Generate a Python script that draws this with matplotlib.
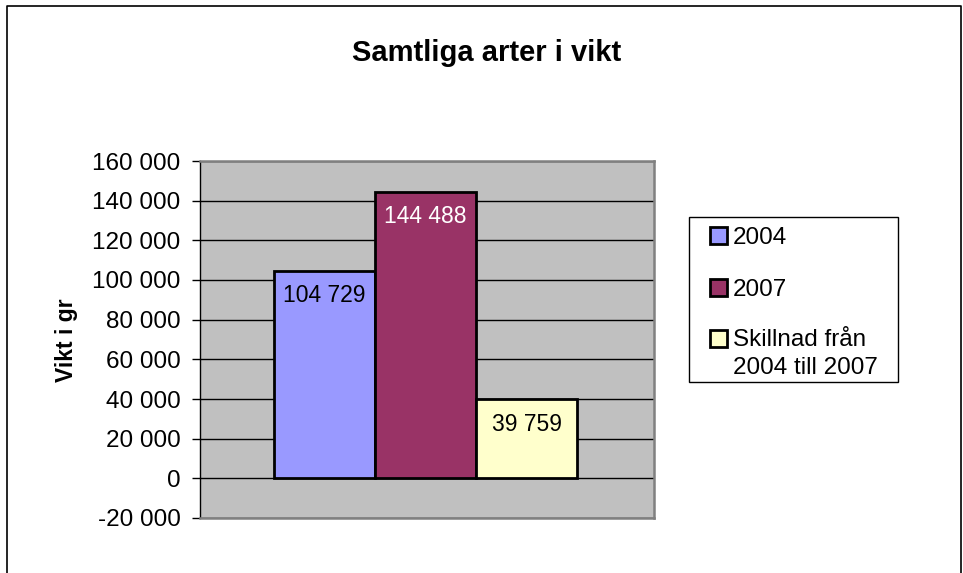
import matplotlib
matplotlib.use("Agg")
import matplotlib.pyplot as plt
from matplotlib.ticker import FuncFormatter, MultipleLocator
from matplotlib.lines import Line2D
from matplotlib.patches import Rectangle

plt.rcParams['font.family'] = ['Liberation Sans', 'DejaVu Sans']

title = "Samtliga arter i vikt"
ylabel = "Vikt i gr"
series_labels = ["2004", "2007", "Skillnad från\n2004 till 2007"]
values = [104729, 144488, 39759]
label_colors = ["black", "white", "black"]
colors = ["#9999FF", "#993366", "#FFFFCC"]

W, H = 963, 573
def fx(px):
    return px / W
def fy(py):
    return 1 - py / H

FS = 16.5
FS_TICK = 17.5
FS_LEG = 17.5
fig = plt.figure(figsize=(W / 100, H / 100), dpi=100)
ax = fig.add_axes([fx(200), fy(518), (654 - 200) / W, (518 - 161) / H])
ax.set_facecolor("#C0C0C0")

xs = [-1, 0, 1]
for x, v, c, lab, lc in zip(xs, values, colors, series_labels, label_colors):
    ax.bar(x, v, width=1.0, color=c, edgecolor="black", linewidth=2, label=lab, zorder=3)
    ax.annotate(f"{v:,}".replace(",", " "), (x, v), xytext=(0, -22.8), textcoords="offset points",
                ha="center", va="baseline", fontsize=FS, color=lc, zorder=4)

ax.set_xlim(-2.233, 2.262)
ax.set_ylim(-20000, 160000)
ax.yaxis.set_major_locator(MultipleLocator(20000))
ax.yaxis.set_major_formatter(FuncFormatter(lambda v, p: f"{int(v):,}".replace(",", " ")))
ax.grid(axis="y", color="black", linewidth=1, zorder=1)
ax.set_xticks([])
ax.tick_params(axis="y", labelsize=FS_TICK, length=6, width=1, color="black", pad=8)
for s in ["top", "right", "bottom"]:
    ax.spines[s].set_color("#808080")
    ax.spines[s].set_linewidth(1.8)
ax.spines["left"].set_color("black")
ax.spines["left"].set_linewidth(1)

fig.text(fx(66), fy(340), ylabel, rotation=90, ha="center", va="center",
         fontsize=FS, fontweight="bold")
fig.text(fx(487), fy(61), title, ha="center", va="baseline", fontsize=21, fontweight="bold")

# legend box
fig.add_artist(Rectangle((fx(689), fy(382)), (898 - 689) / W, (382 - 217) / H,
                         transform=fig.transFigure, facecolor="white", edgecolor="black",
                         linewidth=1))
centers = [235, 287, 338]
for c, lab, cy in zip(colors, series_labels, centers):
    fig.add_artist(Rectangle((fx(710), fy(cy + 8.5)), 17 / W, 17 / H,
                             transform=fig.transFigure, facecolor=c, edgecolor="black",
                             linewidth=2))
    for i, line in enumerate(lab.split("\n")):
        fig.text(fx(733), fy(cy + 8.5 + 27 * i), line, ha="left", va="baseline", fontsize=FS_LEG)

# outer chart frame (no bottom edge visible)
fig.add_artist(Line2D([fx(7), fx(7), fx(961), fx(961)], [0, fy(6), fy(6), 0],
                      transform=fig.transFigure, color="black", linewidth=1.2))

fig.savefig("out.png", dpi=100)
